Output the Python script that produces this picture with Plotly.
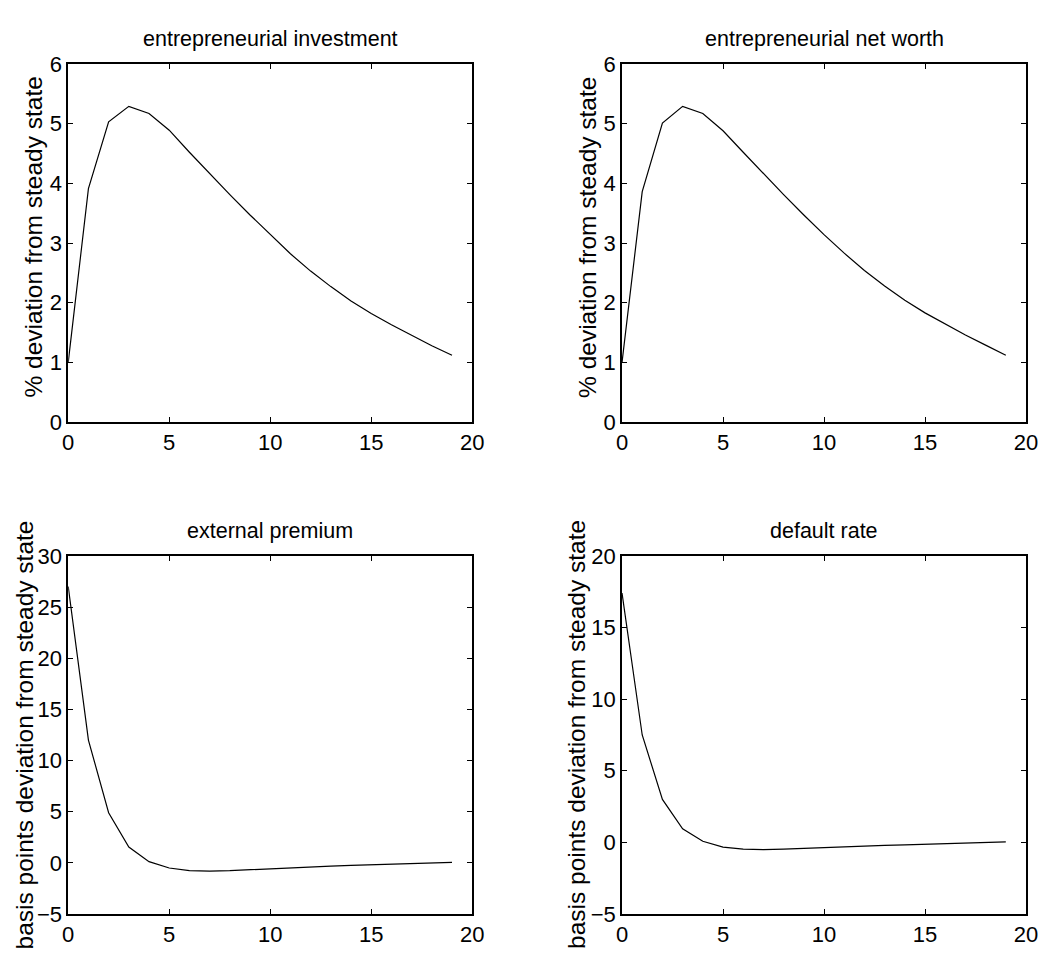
import plotly.graph_objects as go

# Impulse responses, quarters after the shock
quarters = list(range(20))

investment = [1.00, 3.91, 5.03, 5.29, 5.17, 4.89, 4.52, 4.16, 3.81, 3.47,
              3.14, 2.82, 2.53, 2.27, 2.03, 1.82, 1.63, 1.45, 1.28, 1.12]
net_worth = [1.00, 3.86, 5.01, 5.29, 5.17, 4.88, 4.52, 4.16, 3.81, 3.47,
             3.14, 2.83, 2.54, 2.28, 2.04, 1.83, 1.64, 1.46, 1.29, 1.12]
premium = [27.0, 12.0, 4.9, 1.55, 0.12, -0.50, -0.75, -0.80, -0.76, -0.66,
           -0.55, -0.46, -0.38, -0.31, -0.24, -0.17, -0.11, -0.05, 0.00, 0.05]
default_rate = [17.4, 7.5, 3.0, 0.95, 0.08, -0.33, -0.47, -0.50, -0.47, -0.41,
                -0.34, -0.30, -0.26, -0.21, -0.17, -0.13, -0.09, -0.05, -0.01, 0.04]

titles = ["entrepreneurial investment", "entrepreneurial net worth",
          "external premium", "default rate"]
ylabels = ["% deviation from steady state", "% deviation from steady state",
           "basis points deviation from steady state",
           "basis points deviation from steady state"]
yranges = [[0, 6], [0, 6], [-5, 30], [-5, 20]]
ydticks = [1, 1, 5, 5]
series = [investment, net_worth, premium, default_rate]

W, H = 1056, 967
FONT = "Liberation Sans, Arial, Helvetica, sans-serif"

# panel boxes in pixels: (left, right, top, bottom)
boxes = [(63.3, 474.3, 53.3, 421.0), (626.7, 1037.7, 53.3, 421.0),
         (63.3, 474.3, 558.3, 926.0), (626.7, 1037.7, 558.3, 926.0)]
# centre of each rotated y label (x, y) in pixels
ylabel_pos = [(28, 231), (591, 231), (19, 742), (581, 742)]

fig = go.Figure()
annotations = []
for i, (ys, box) in enumerate(zip(series, boxes)):
    n = "" if i == 0 else str(i + 1)
    l, r, t, b = box
    fig.add_trace(go.Scatter(x=quarters, y=ys, mode="lines",
                             line=dict(color="black", width=1.2),
                             xaxis="x" + n, yaxis="y" + n, showlegend=False))
    common = dict(showgrid=False, zeroline=False, showline=True,
                  linecolor="black", linewidth=1.6, mirror="allticks",
                  ticks="inside", ticklen=5, tickwidth=1, tickcolor="black",
                  tickfont=dict(family=FONT, size=22, color="black"))
    fig.layout["xaxis" + n] = dict(domain=[l / W, r / W], range=[0, 20],
                                   tick0=0, dtick=5, anchor="y" + n, **common)
    fig.layout["yaxis" + n] = dict(domain=[1 - b / H, 1 - t / H],
                                   range=yranges[i], tick0=yranges[i][0],
                                   dtick=ydticks[i], anchor="x" + n, **common)
    annotations.append(dict(text=titles[i], x=(l + r) / 2 / W, y=1 - t / H,
                            xref="paper", yref="paper", xanchor="center",
                            yanchor="bottom", yshift=11, showarrow=False,
                            font=dict(family=FONT, size=21.5, color="black")))
    lx, ly = ylabel_pos[i]
    annotations.append(dict(text=ylabels[i], x=lx / W, y=1 - ly / H,
                            xref="paper", yref="paper",
                            xanchor="center", yanchor="middle", textangle=-90,
                            showarrow=False,
                            font=dict(family=FONT, size=24.5, color="black")))

fig.update_layout(width=W, height=H, margin=dict(l=0, r=0, t=0, b=0),
                  paper_bgcolor="white", plot_bgcolor="white",
                  annotations=annotations)

fig.write_html("out.html")
